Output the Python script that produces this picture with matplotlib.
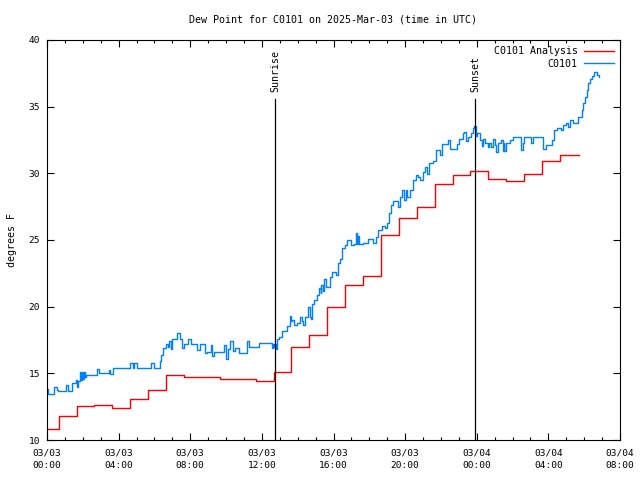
import datetime as dt
import matplotlib
matplotlib.use("Agg")
import matplotlib.pyplot as plt
import matplotlib.dates as mdates

# hours after 2025-03-03 00:00 UTC
analysis_hours = [0, 0.65, 1.65, 2.65, 3.65, 4.65, 5.65, 6.65, 7.65, 8.65, 9.65, 10.65,
                  11.65, 12.65, 13.65, 14.65, 15.65, 16.65, 17.65, 18.65, 19.65, 20.65,
                  21.65, 22.65, 23.65, 24.65, 25.65, 26.65, 27.65, 28.65, 29.7]
analysis_vals = [10.8, 11.8, 12.53, 12.6, 12.4, 13.07, 13.75, 14.85, 14.7, 14.7, 14.57, 14.57,
                 14.43, 15.07, 17.0, 17.85, 20.0, 21.6, 22.27, 25.35, 26.63, 27.45,
                 29.2, 29.88, 30.15, 29.6, 29.4, 29.93, 30.9, 31.35, 31.35]

obs_hours = [0.0, 0.07, 0.39, 0.58, 0.62, 1.04, 1.15, 1.38, 1.6, 1.7, 1.75, 1.85, 1.92, 1.97,
             2.02, 2.06, 2.1, 2.2, 2.78, 2.92, 3.47, 3.54, 3.68, 4.64, 4.78, 4.88, 5.05, 5.8,
             5.98, 6.31, 6.38, 6.5, 6.65, 6.73, 6.82, 6.9, 6.98, 7.25, 7.4, 7.52, 7.64, 7.88,
             8.05, 8.38, 8.55, 8.83, 8.95, 9.14, 9.2, 9.3, 9.86, 9.97, 10.1, 10.22, 10.38,
             10.5, 10.7, 11.17, 11.3, 11.85, 12.55, 12.62, 12.68, 12.72, 12.79, 12.86, 12.95,
             13.12, 13.28, 13.4, 13.55, 13.6, 13.68, 13.79, 13.94, 14.13, 14.25, 14.31, 14.4,
             14.58, 14.66, 14.73, 14.82, 14.93, 15.06, 15.19, 15.28, 15.32, 15.4, 15.47, 15.6,
             15.8, 15.93, 16.14, 16.25, 16.36, 16.5, 16.62, 16.77, 16.96, 17.14, 17.26, 17.33,
             17.39, 17.44, 17.67, 17.9, 18.0, 18.2, 18.37, 18.5, 18.7, 18.88, 18.97, 19.12,
             19.23, 19.34, 19.49, 19.62, 19.7, 19.8, 19.94, 20.05, 20.12, 20.27, 20.42, 20.61,
             20.74, 20.85, 21.02, 21.12, 21.2, 21.35, 21.54, 21.7, 21.95, 22.05, 22.41, 22.48,
             22.9, 23.03, 23.21, 23.3, 23.38, 23.53, 23.66, 23.79, 23.86, 23.94, 24.03, 24.18,
             24.31, 24.37, 24.45, 24.63, 24.7, 24.78, 24.89, 25.0, 25.08, 25.2, 25.37, 25.45,
             25.5, 25.54, 25.65, 25.88, 26.05, 26.45, 26.57, 26.65, 27.01, 27.15, 27.72, 27.85,
             28.19, 28.31, 28.5, 28.69, 28.84, 28.99, 29.08, 29.21, 29.36, 29.54, 29.67, 29.86,
             29.95, 30.05, 30.14, 30.23, 30.33, 30.42, 30.55, 30.7, 30.84]
obs_vals = [13.8, 13.45, 14.0, 13.75, 13.67, 14.1, 13.7, 14.25, 14.5, 14.0, 14.4, 15.1, 14.5, 15.1,
            14.6, 15.1, 14.7, 14.9, 15.3, 15.0, 15.25, 14.95, 15.37, 15.8, 15.37, 15.8, 15.37, 15.8,
            15.37, 15.9, 16.4, 16.9, 17.2, 17.0, 17.4, 16.8, 17.6, 18.0, 17.6, 16.9, 17.2, 17.6,
            17.2, 16.75, 17.2, 16.5, 16.6, 17.1, 16.3, 16.58, 17.1, 16.05, 16.8, 17.4, 16.7,
            16.9, 16.55, 17.4, 16.95, 17.25, 16.9, 17.2, 17.0, 17.2, 16.8, 17.6, 17.7,
            18.2, 18.15, 18.55, 19.3, 18.9, 19.0, 18.6, 18.75, 19.2, 18.9, 18.6, 19.2,
            19.95, 19.2, 19.1, 20.2, 20.5, 20.9, 21.4, 21.0, 21.6, 21.2, 22.1, 21.5,
            22.25, 22.6, 22.4, 23.25, 23.6, 24.4, 24.6, 25.0, 24.6, 24.7, 25.5, 24.7,
            25.3, 24.7, 24.75, 25.1, 25.1, 24.75, 25.25, 25.75, 26.05, 25.9, 26.25, 27.0,
            27.6, 27.9, 27.95, 27.5, 28.2, 28.75, 28.0, 28.75, 28.2, 28.75, 29.5, 29.9,
            29.7, 29.5, 30.1, 30.5, 29.95, 30.75, 30.9, 31.75, 31.4, 32.2, 32.5, 31.8,
            32.2, 32.6, 33.0, 33.1, 32.4, 32.7, 33.0, 33.4, 33.55, 32.8, 33.05, 32.5,
            32.05, 32.6, 32.3, 32.0, 32.3, 32.0, 32.6, 32.1, 31.6, 32.25, 32.5, 31.7,
            32.3, 31.7, 32.3, 32.5, 32.7, 31.75, 32.3, 32.7, 32.3, 32.7, 31.8, 32.1,
            32.5, 33.25, 33.4, 33.25, 33.6, 33.8, 33.5, 34.0, 33.75, 33.8, 34.25, 34.75,
            35.25, 35.75, 36.25, 36.75, 37.1, 37.3, 37.6, 37.4, 37.2]

sun_events = ["Sunrise", "Sunset"]
sun_hours = [12.75, 23.92]

start = dt.datetime(2025, 3, 3, 0, 0)
def to_time(hours):
    return [start + dt.timedelta(hours=h) for h in hours]

plt.rcParams['font.family'] = ['DejaVu Sans Mono']

fig = plt.figure(figsize=(6.4, 4.8), dpi=100)
ax = fig.add_axes([47/640, 40/480, 573/640, 400/480])

ax.plot(to_time(analysis_hours), analysis_vals, color='#ff0000', lw=1.0,
        drawstyle='steps-post', label='C0101 Analysis')
ax.plot(to_time(obs_hours), obs_vals, color='#0080ff', lw=1.0,
        drawstyle='steps-post', label='C0101')

for name, h in zip(sun_events, sun_hours):
    t = start + dt.timedelta(hours=h)
    ax.plot([t, t], [10, 35.55], color='black', lw=0.9)
    ax.text(t, 36.1, name, rotation=90, ha='center', va='bottom', fontsize=7.2)

ax.set_xlim(start, start + dt.timedelta(hours=32))
ax.set_ylim(10, 40)
ax.set_yticks(range(10, 41, 5))
ax.xaxis.set_major_locator(mdates.HourLocator(byhour=[0, 4, 8, 12, 16, 20]))
ax.xaxis.set_minor_locator(mdates.HourLocator())
ax.xaxis.set_major_formatter(mdates.DateFormatter('%m/%d\n%H:%M'))

ax.tick_params(which='both', direction='in', top=True, right=True, labelsize=6.8,
               width=0.8, colors='black')
ax.tick_params(which='major', length=5, pad=5)
ax.tick_params(axis='x', which='major', pad=6)
ax.tick_params(which='minor', length=2.5)
for lab in ax.get_xticklabels():
    lab.set_linespacing(1.55)
for s in ax.spines.values():
    s.set_linewidth(0.8)

ax.set_ylabel('degrees F', fontsize=7.2, labelpad=8)
fig.text(333/640, 1 - 20/480, 'Dew Point for C0101 on 2025-Mar-03 (time in UTC)',
         ha='center', va='center', fontsize=7.2)

ax.legend(loc='upper right', frameon=False, markerfirst=False, fontsize=7.2,
          handlelength=3.0, borderaxespad=0.25, labelspacing=0.25, handletextpad=0.6)

fig.savefig('out.png', dpi=100)
